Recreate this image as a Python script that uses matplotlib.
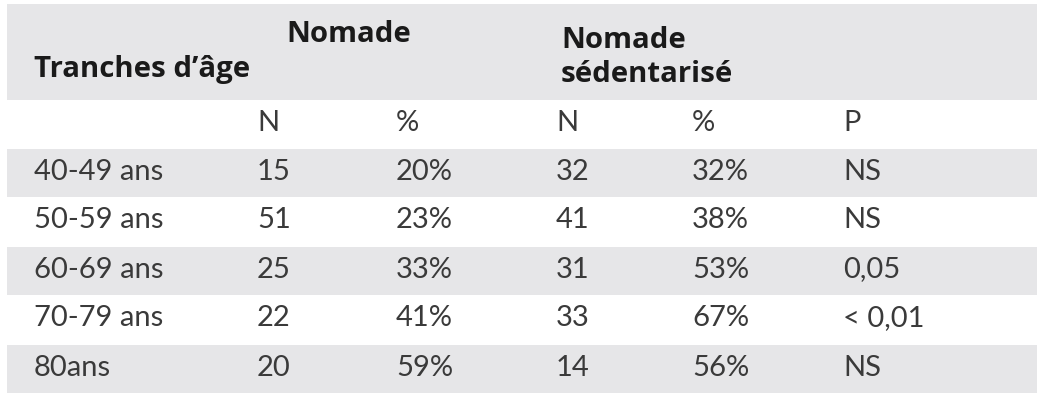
import matplotlib
matplotlib.use("Agg")
import matplotlib.pyplot as plt
from matplotlib.patches import Rectangle

age_groups = ["40-49 ans", "50-59 ans", "60-69 ans", "70-79 ans", "80ans"]
nomade_n = [15, 51, 25, 22, 20]
nomade_pct = [20, 23, 33, 41, 59]
sed_n = [32, 41, 31, 33, 14]
sed_pct = [32, 38, 53, 67, 56]
p_values = ["NS", "NS", "0,05", "< 0,01", "NS"]
sub_headers = ["N", "%", "N", "%", "P"]

W, H = 1044, 403
fig = plt.figure(figsize=(W / 100, H / 100), dpi=100)
ax = fig.add_axes([0, 0, 1, 1])
ax.set_xlim(0, W)
ax.set_ylim(H, 0)
ax.axis("off")

gray = "#e6e6e8"
body_col = "#3a3a3a"
head_col = "#1a1a1a"
left, right = 7, 1037

# header band
ax.add_patch(Rectangle((left, 4), right - left, 96, color=gray, lw=0))

row_top = 149
row_h = 49
col_x = [34, 257, 396, 556, 692, 843]

body = dict(family="Lato", fontweight="normal", fontsize=21, color=body_col, va="center")
head = dict(family="Open Sans", fontweight="bold", fontsize=21.2, color=head_col, va="center")

ax.text(34, 70, "Tranches d\u2019âge", **head)
ax.text(286, 35, "Nomade", **head)
ax.text(561, 41, "Nomade", **head)
ax.text(561, 75, "sédentarisé", **head)

for x, s in zip(col_x[1:], sub_headers):
    ax.text(x, 123, s, **body)

for i, age in enumerate(age_groups):
    y0 = row_top + i * row_h
    if i % 2 == 0:
        ax.add_patch(Rectangle((left, y0), right - left, row_h - 1, color=gray, lw=0))
    yc = y0 + row_h / 2 - 2
    vals = [age, str(nomade_n[i]), f"{nomade_pct[i]}%", str(sed_n[i]),
            f"{sed_pct[i]}%", p_values[i]]
    for x, s in zip(col_x, vals):
        ax.text(x, yc, s, **body)

fig.savefig("out.png", dpi=100, facecolor="white")
